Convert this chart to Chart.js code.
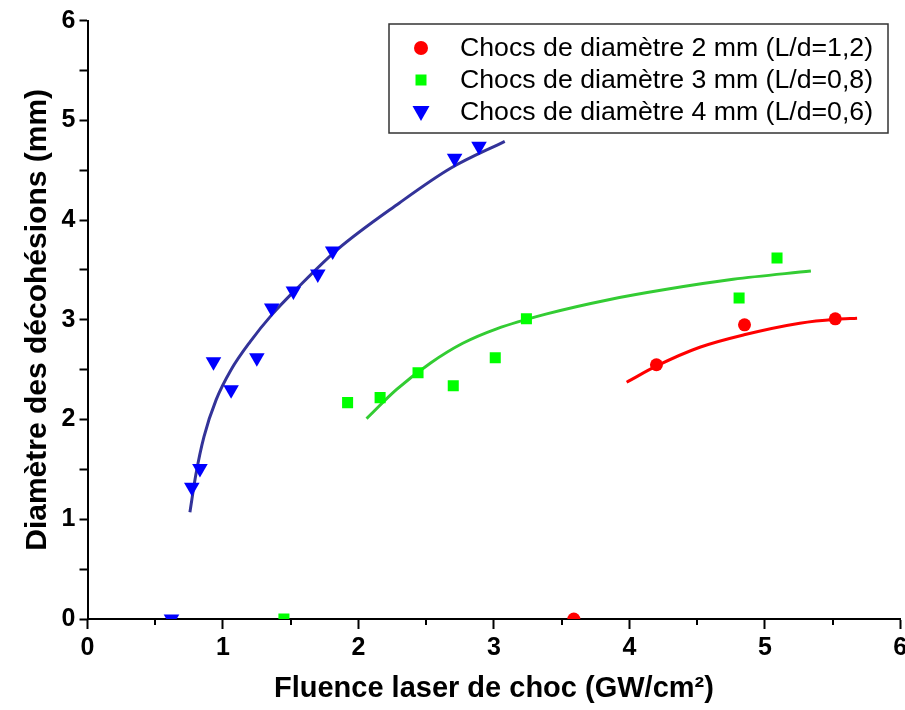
<!DOCTYPE html>
<html>
<head>
<meta charset="utf-8">
<script src="https://cdn.jsdelivr.net/npm/chart.js@4/dist/chart.umd.min.js"></script>
<style>
html, body { margin: 0; padding: 0; background: #fff; }
</style>
</head>
<body>
<canvas id="canvas1" width="905" height="710"></canvas>
<script>
"use strict";

// points measured (fluence GW/cm2, diametre mm)
let fluence2 = [3.59, 4.20, 4.85, 5.52];
let diam2 = [0, 2.55, 2.95, 3.01];

let fluence3 = [1.45, 1.92, 2.16, 2.44, 2.70, 3.01, 3.24, 4.81, 5.09];
let diam3 = [0, 2.17, 2.22, 2.47, 2.34, 2.62, 3.01, 3.22, 3.62];

let fluence4 = [0.62, 0.77, 0.83, 0.93, 1.06, 1.25, 1.36, 1.52, 1.70, 1.81, 2.71, 2.89];
let diam4 = [0, 1.32, 1.51, 2.58, 2.30, 2.62, 3.12, 3.29, 3.46, 3.69, 4.62, 4.74];

// fitted curves
let fitX2 = [3.98, 4.205, 4.52, 4.847, 5.258, 5.524, 5.681];
let fitY2 = [2.374, 2.54, 2.725, 2.85, 2.966, 3.006, 3.016];

let fitX3 = [2.06, 2.28, 2.53, 2.77, 3.02, 3.39, 3.856, 4.275, 4.766, 5.34];
let fitY3 = [2.01, 2.30, 2.565, 2.765, 2.91, 3.06, 3.205, 3.307, 3.407, 3.49];

let fitX4 = [0.756, 0.80, 0.86, 0.95, 1.06, 1.20, 1.36, 1.55, 1.84, 2.30, 2.68, 3.08];
let fitY4 = [1.07, 1.45, 1.83, 2.20, 2.50, 2.78, 3.05, 3.32, 3.70, 4.17, 4.52, 4.79];

let labels = [
    "Chocs de diamètre 2 mm (L/d=1,2)",
    "Chocs de diamètre 3 mm (L/d=0,8)",
    "Chocs de diamètre 4 mm (L/d=0,6)",
];

let xTitle = "Fluence laser de choc (GW/cm²)";
let yTitle = "Diamètre des décohésions (mm)";

let tickFont = { family: "'Liberation Sans', Arial", size: 25, weight: "bold" };

function pts(xs, ys) {
    return xs.map((x, i) => ({ x: x, y: ys[i] }));
}

function tickLbl(v) {
    return Number.isInteger(v) ? String(v) : "";
}

// legend box drawn inside the plot
let legendBox = {
    id: "legendBox",
    afterDatasetsDraw(chart) {
        let ctx = chart.ctx;
        ctx.save();
        ctx.fillStyle = "#fff";
        ctx.fillRect(389, 24, 499, 109);
        ctx.strokeStyle = "#333";
        ctx.lineWidth = 1.5;
        ctx.strokeRect(389, 24, 499, 109);

        ctx.font = "26.7px 'Liberation Sans', Arial, sans-serif";
        ctx.textBaseline = "middle";
        let rows = [48, 80, 112];
        for (let i = 0; i < 3; i++) {
            let ds = chart.data.datasets[i];
            let cx = 421, cy = rows[i];
            ctx.fillStyle = ds.backgroundColor;
            ctx.beginPath();
            if (i == 0) {
                ctx.arc(cx, cy, 7, 0, Math.PI * 2);
            } else if (i == 1) {
                ctx.rect(cx - 5.5, cy - 5.5, 11, 11);
            } else {
                ctx.moveTo(cx - 8.5, cy - 6);
                ctx.lineTo(cx + 8.5, cy - 6);
                ctx.lineTo(cx, cy + 9);
                ctx.closePath();
            }
            ctx.fill();
            ctx.fillStyle = "#000";
            ctx.fillText(labels[i], 460, cy + 1);
        }
        ctx.restore();
    }
};

// short minor ticks on the x axis
let minorTicks = {
    id: "minorTicks",
    afterDraw(chart) {
        let sx = chart.scales.x;
        let ctx = chart.ctx;
        ctx.save();
        ctx.strokeStyle = "#000";
        ctx.lineWidth = 2;
        sx.ticks.forEach(t => {
            if (!Number.isInteger(t.value)) {
                let px = Math.round(sx.getPixelForValue(t.value));
                ctx.beginPath();
                ctx.moveTo(px, sx.top);
                ctx.lineTo(px, sx.top + 6);
                ctx.stroke();
            }
        });
        ctx.restore();
    }
};

let canvas1 = document.querySelector("#canvas1");

let opts = {
    type: "scatter",
    data: {
        datasets: [
            { label: labels[0], data: pts(fluence2, diam2), pointStyle: "circle", pointRadius: 6.5,
              backgroundColor: "#ff0000", borderColor: "#ff0000", borderWidth: 0, clip: 0 },
            { label: labels[1], data: pts(fluence3, diam3), pointStyle: "rect", pointRadius: 7.8,
              backgroundColor: "#00ff00", borderColor: "#00ff00", borderWidth: 0, clip: 0 },
            { label: labels[2], data: pts(fluence4, diam4), pointStyle: "triangle", rotation: 180, pointRadius: 9,
              backgroundColor: "#0000ff", borderColor: "#0000ff", borderWidth: 0, clip: 0 },
            { label: "fit2", data: pts(fitX2, fitY2), showLine: true, pointRadius: 0, borderWidth: 3,
              borderColor: "#ff0000", cubicInterpolationMode: "monotone" },
            { label: "fit3", data: pts(fitX3, fitY3), showLine: true, pointRadius: 0, borderWidth: 3,
              borderColor: "#33cc33", cubicInterpolationMode: "monotone" },
            { label: "fit4", data: pts(fitX4, fitY4), showLine: true, pointRadius: 0, borderWidth: 3,
              borderColor: "#333399", cubicInterpolationMode: "monotone" },
        ],
    },
    options: {
        responsive: false,
        animation: false,
        devicePixelRatio: 1,
        layout: { autoPadding: false, padding: { top: 20.7, right: 4.7, left: 0, bottom: 0 } },
        plugins: {
            legend: { display: false },
            tooltip: { enabled: false },
        },
        scales: {
            x: {
                type: "linear",
                min: 0,
                max: 6,
                ticks: {
                    stepSize: 0.5,
                    autoSkip: false,
                    maxRotation: 0,
                    callback: tickLbl,
                    color: "#000",
                    padding: 4,
                    font: tickFont,
                },
                grid: {
                    drawOnChartArea: false,
                    tickLength: 10,
                    tickWidth: 2,
                    tickColor: c => (c.tick && Number.isInteger(c.tick.value)) ? "#000" : "rgba(0,0,0,0)",
                },
                border: { color: "#000", width: 2 },
                title: {
                    display: true,
                    text: xTitle,
                    color: "#000",
                    padding: { top: 0, bottom: 4 },
                    font: { family: "'Liberation Sans', Arial", size: 29, weight: "bold" },
                },
                afterFit: s => { s.height = 91; s.paddingLeft = 0; s.paddingRight = 0; },
            },
            y: {
                type: "linear",
                min: 0,
                max: 6,
                ticks: {
                    stepSize: 0.5,
                    autoSkip: false,
                    callback: tickLbl,
                    color: "#000",
                    padding: 4,
                    font: tickFont,
                },
                grid: { drawOnChartArea: false, tickLength: 8, tickColor: "#000", tickWidth: 2 },
                border: { color: "#000", width: 2 },
                title: {
                    display: true,
                    text: yTitle,
                    color: "#000",
                    padding: { top: 20, bottom: 0 },
                    font: { family: "'Liberation Sans', Arial", size: 30, weight: "bold" },
                },
                afterFit: s => { s.width = 87.5; s.paddingTop = 0; s.paddingBottom = 0; },
            },
        },
    },
    plugins: [legendBox, minorTicks],
};

let chart1 = new Chart(canvas1, opts);
</script>
</body>
</html>
